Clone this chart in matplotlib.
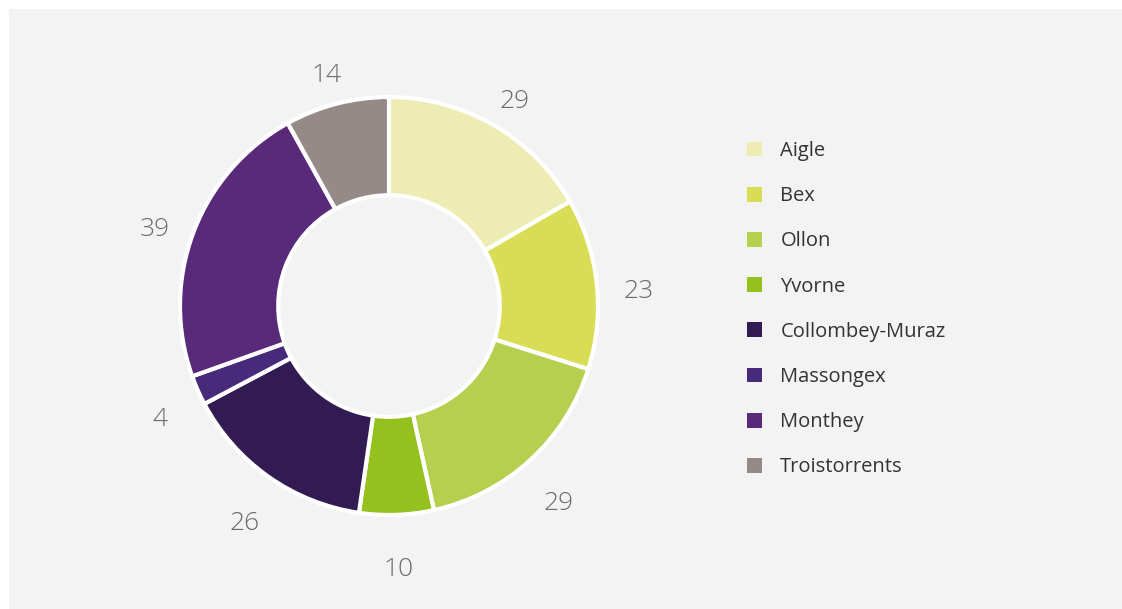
import matplotlib.pyplot as plt
from matplotlib.patches import Rectangle

communes = ["Aigle", "Bex", "Ollon", "Yvorne", "Collombey-Muraz",
            "Massongex", "Monthey", "Troistorrents"]
values = [29, 23, 29, 10, 26, 4, 39, 14]
colors = ["#ededb3", "#d8dd55", "#b7cf4e", "#95c11f", "#321a52",
          "#472a7a", "#5a2a7a", "#958a87"]

W, H = 1122, 609
fig = plt.figure(figsize=(W / 100, H / 100), dpi=100)
fig.patch.set_facecolor("white")
fig.add_artist(Rectangle((9 / W, 0), 1, (H - 9) / H, transform=fig.transFigure,
                         facecolor="#f3f3f3", edgecolor="none", zorder=0))

# pie axes: center (389, 306) px, radius ~209 px
cx, cy, r = 389, H - 306, 209
span = 1.5
aw = 2 * span * r
ax = fig.add_axes([(cx - aw / 2) / W, (cy - aw / 2) / H, aw / W, aw / H])

wedges, texts = ax.pie(values, colors=colors, labels=[str(v) for v in values],
                       startangle=90, counterclock=False, radius=1,
                       labeldistance=1.2,
                       wedgeprops=dict(width=0.47, edgecolor="white", linewidth=3),
                       textprops=dict(fontsize=19, color="#6b6b6b",
                                      family="Open Sans", fontweight="light"))
for t in texts:
    t.set_horizontalalignment("center")
    t.set_verticalalignment("top")
ax.set_xlim(-span, span)
ax.set_ylim(-span, span)
ax.axis("off")

leg = fig.legend(wedges, communes, loc="upper left",
                 bbox_to_anchor=(729 / W, (H - 123) / H),
                 frameon=False, handlelength=0.75, handleheight=0.75,
                 handletextpad=0.9, labelspacing=1.25,
                 prop=dict(family="Open Sans", size=14.5))
for t in leg.get_texts():
    t.set_color("#333333")
for h in leg.legend_handles:
    h.set_edgecolor("none")

fig.savefig("out.png", dpi=100)
